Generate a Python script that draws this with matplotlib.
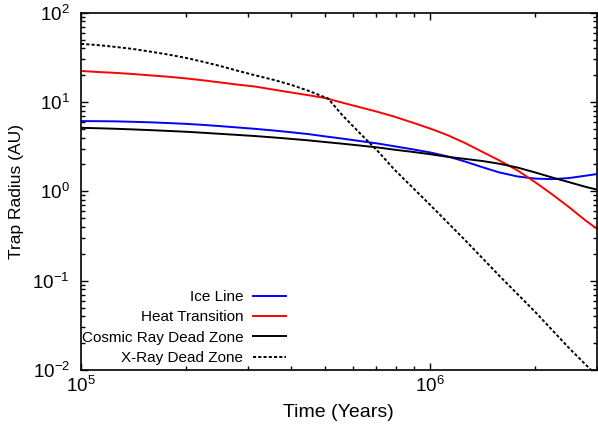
import numpy as np
import matplotlib
matplotlib.use("Agg")
import matplotlib.pyplot as plt

plt.rcParams['font.family'] = ['Liberation Sans', 'DejaVu Sans']
plt.rcParams['mathtext.fontset'] = 'custom'
plt.rcParams['mathtext.rm'] = 'Liberation Sans'
plt.rcParams['mathtext.it'] = 'Liberation Sans:italic'
plt.rcParams['axes.unicode_minus'] = False

# time grid (years) shared by the three solid curves
time = [1e5, 1.12e5, 1.26e5, 1.41e5, 1.58e5, 1.78e5, 2e5, 2.24e5, 2.5e5, 2.8e5,
        3.16e5, 3.55e5, 4e5, 4.5e5, 5e5, 5.6e5, 6.3e5, 7.1e5, 7.9e5, 8.9e5,
        1e6, 1.12e6, 1.26e6, 1.41e6, 1.58e6, 1.78e6, 2e6, 2.24e6, 2.5e6, 2.8e6, 3e6]

ice_line = [6.12, 6.11, 6.08, 6.01, 5.93, 5.82, 5.70, 5.55, 5.38, 5.20,
            5.01, 4.81, 4.59, 4.37, 4.13, 3.90, 3.66, 3.43, 3.20, 2.96,
            2.73, 2.47, 2.16, 1.87, 1.63, 1.47, 1.39, 1.37, 1.41, 1.50, 1.56]
heat_transition = [22.3, 21.7, 21.2, 20.6, 19.9, 19.2, 18.4, 17.5, 16.6, 15.7,
                   14.9, 13.8, 12.8, 11.9, 11.1, 9.86, 8.75, 7.74, 6.87, 5.90,
                   5.06, 4.28, 3.48, 2.78, 2.22, 1.72, 1.27, 0.925, 0.668, 0.467, 0.385]
cosmic_ray = [5.15, 5.09, 5.02, 4.94, 4.85, 4.75, 4.65, 4.53, 4.41, 4.29,
              4.16, 4.02, 3.87, 3.72, 3.57, 3.42, 3.26, 3.10, 2.93, 2.77,
              2.61, 2.44, 2.31, 2.19, 2.04, 1.85, 1.63, 1.43, 1.27, 1.12, 1.05]

# x-ray dead zone has a sharp knee where it meets the heat transition
time_xray = [1e5, 1.12e5, 1.26e5, 1.41e5, 1.58e5, 1.78e5, 2e5, 2.24e5, 2.5e5, 2.8e5,
             3.16e5, 3.55e5, 4e5, 4.5e5, 5e5, 5.1e5, 5.6e5, 6.3e5, 7.1e5, 7.9e5,
             1e6, 1.26e6, 1.58e6, 2e6, 2.5e6, 3e6]
xray = [44.8, 43.4, 41.4, 39.3, 36.7, 34.0, 31.2, 28.2, 25.4, 22.5,
        19.9, 17.8, 15.6, 13.3, 11.3, 11.0, 7.16, 4.47, 2.80, 1.76,
        0.708, 0.285, 0.1135, 0.0449, 0.0177, 0.00869]

fig = plt.figure(figsize=(5.98, 4.32), dpi=100)
ax = fig.add_axes([0.1355, 0.1435, 0.862, 0.827])

lw = 1.4
ax.plot(time, ice_line, color='#0000ff', lw=lw, label='Ice Line')
ax.plot(time, heat_transition, color='#ff0000', lw=lw, label='Heat Transition')
ax.plot(time, cosmic_ray, color='black', lw=lw, label='Cosmic Ray Dead Zone')
ax.plot(time_xray, xray, color='black', lw=lw, linestyle=(0, (1.6, 1.1)),
        label='X-Ray Dead Zone')

ax.set_xscale('log')
ax.set_yscale('log')
ax.set_xlim(1e5, 3e6)
ax.set_ylim(1e-2, 1e2)

ax.set_xlabel('Time (Years)', fontsize=14, labelpad=6)
ax.set_ylabel('Trap Radius (AU)', fontsize=12.5, labelpad=6)

ax.tick_params(which='both', direction='in', top=True, right=True,
               labelsize=13.5, width=1.0)
ax.tick_params(which='major', length=5)
ax.tick_params(which='minor', length=3)
ax.tick_params(axis='x', which='major', pad=4)
ax.tick_params(axis='y', which='major', pad=8)
for s in ax.spines.values():
    s.set_linewidth(1.2)

ax.legend(loc='upper right', bbox_to_anchor=(0.398, 0.224), frameon=False,
          markerfirst=False, fontsize=11, handlelength=2.2, handletextpad=0.6,
          labelspacing=0.42, borderpad=0, borderaxespad=0)

fig.savefig('out.png', dpi=100)
